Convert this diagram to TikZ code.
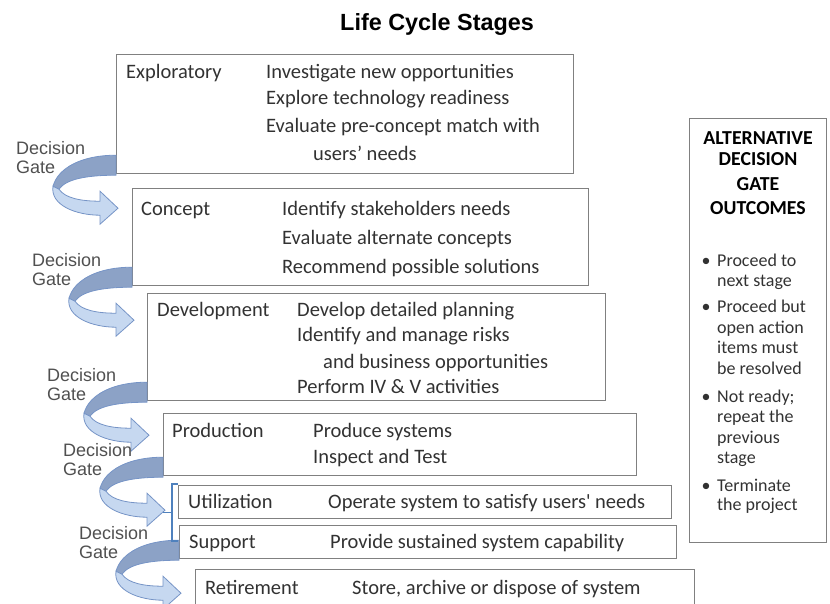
\documentclass[tikz,border=0pt]{standalone}
\usepackage{fontspec}
\setmainfont{Carlito}
\newfontfamily\arialfont{Liberation Sans}
\usetikzlibrary{calc}

\definecolor{gatedark}{RGB}{140,162,198}
\definecolor{gatelight}{RGB}{198,216,240}
\definecolor{gateline}{RGB}{118,148,198}
\definecolor{boxline}{RGB}{128,128,128}
\definecolor{txt}{RGB}{50,50,50}
\definecolor{gatetxt}{RGB}{80,80,80}
\definecolor{bracketblue}{RGB}{79,129,189}

% curved decision gate arrow, hung on the lower left corner of a stage box
\newcommand{\gatearrow}[2]{%
  \begin{scope}[shift={(#1)}]
    \filldraw[fill=gatedark, draw=gateline, line width=.8pt] (0,-19) .. controls (-35,-19) and (-58,-6) .. (-63,12) -- (-57,15) .. controls (-50,5) and (-30,1) .. (0,1) -- cycle;
    \filldraw[fill=gatelight, draw=gateline, line width=.8pt] (-63,12) .. controls (-66,31) and (-40,41) .. (-16,41) -- (-16,50) -- (2,34) -- (-16,17) -- (-16,27) .. controls (-35,27) and (-51,24) .. (-57,15) -- cycle;
    \node (#2) [gatelabel] at (-100,-33) {Decision\\Gate};
  \end{scope}}

\begin{document}
\begin{tikzpicture}[x=1pt, y=-1pt,
  stagebox/.style={draw=boxline, line width=1.2pt, anchor=north west, inner sep=0},
  stagetext/.style={anchor=base west, inner sep=0, text=txt, font=\fontsize{20.5}{24}\selectfont},
  gatelabel/.style={anchor=north west, inner sep=0, align=left, text=gatetxt, font=\arialfont\fontsize{18}{19.5}\selectfont},
  outhead/.style={anchor=base, inner sep=0, text=black, font=\bfseries\fontsize{19.8}{22}\selectfont},
  outtext/.style={anchor=base west, inner sep=0, text=txt, font=\fontsize{18}{20}\selectfont}]
  \useasboundingbox (0,0) rectangle (830,603);
  \clip (0,0) rectangle (830,603);

  \node (title) [anchor=base west, inner sep=0, font=\arialfont\bfseries\fontsize{23.4}{26}\selectfont] at (340,30) {Life Cycle Stages};

  % stage boxes
  \node (expl) [stagebox, minimum width=457, minimum height=119] at (116,54) {};
  \node (conc) [stagebox, minimum width=456, minimum height=97] at (132,188) {};
  \node (devl) [stagebox, minimum width=458, minimum height=107] at (147,293) {};
  \node (prod) [stagebox, minimum width=473, minimum height=62] at (163,413) {};
  \node (util) [stagebox, minimum width=493, minimum height=33] at (178,485) {};
  \node (supp) [stagebox, minimum width=497, minimum height=33] at (179,525) {};
  \node (retr) [stagebox, minimum width=499, minimum height=50] at (195,569) {};

  % decision gates
  \gatearrow{expl.south west}{gate1}
  \gatearrow{conc.south west}{gate2}
  \gatearrow{devl.south west}{gate3}
  \gatearrow{prod.south west}{gate4}
  \gatearrow{supp.south west}{gate5}

  % bracket round utilization and support
  \coordinate (brtop) at (178,484);
  \coordinate (brbot) at (178,541);
  \draw[bracketblue, line width=1.5pt] (brtop) -- ++(-6,0) |- (brbot);
  \draw[bracketblue, line width=1.5pt] ($(brtop)!.5!(brbot)+(-6,0)$) -- ++(-9,0);

  % stage texts
  \node (expl-n) [stagetext] at (126,78) {Exploratory};
  \node (expl-1) [stagetext] at (266,78) {Investigate new opportunities};
  \node (expl-2) [stagetext] at (266,104) {Explore technology readiness};
  \node (expl-3) [stagetext] at (266,132) {Evaluate pre-concept match with};
  \node (expl-4) [stagetext] at (313,160) {users’ needs};

  \node (conc-n) [stagetext] at (141,215) {Concept};
  \node (conc-1) [stagetext] at (282,215) {Identify stakeholders needs};
  \node (conc-2) [stagetext] at (282,244) {Evaluate alternate concepts};
  \node (conc-3) [stagetext] at (282,273) {Recommend possible solutions};

  \node (devl-n) [stagetext] at (157,316) {Development};
  \node (devl-1) [stagetext] at (297,316) {Develop detailed planning};
  \node (devl-2) [stagetext] at (297,341) {Identify and manage risks};
  \node (devl-3) [stagetext] at (323,368) {and business opportunities};
  \node (devl-4) [stagetext] at (297,393) {Perform IV \& V activities};

  \node (prod-n) [stagetext] at (172,437) {Production};
  \node (prod-1) [stagetext] at (313,437) {Produce systems};
  \node (prod-2) [stagetext] at (313,463) {Inspect and Test};

  \node (util-n) [stagetext] at (188,508) {Utilization};
  \node (util-1) [stagetext] at (328,508) {Operate system to satisfy users\textquotesingle\ needs};

  \node (supp-n) [stagetext] at (189,548) {Support};
  \node (supp-1) [stagetext] at (330,548) {Provide sustained system capability};

  \node (retr-n) [stagetext] at (205,594) {Retirement};
  \node (retr-1) [stagetext] at (352,594) {Store, archive or dispose of system};

  % outcomes box
  \node (outc) [stagebox, minimum width=137, minimum height=424] at (689,118) {};
  \node (outc-h1) [outhead] at (758,144) {ALTERNATIVE};
  \node (outc-h2) [outhead] at (758,165) {DECISION};
  \node (outc-h3) [outhead] at (758,190) {GATE};
  \node (outc-h4) [outhead] at (758,214) {OUTCOMES};

  \node (b1) [outhead, font=\fontsize{18}{20}\selectfont, text=txt] at (706,266) {\textbullet};
  \node (b2) [outhead, font=\fontsize{18}{20}\selectfont, text=txt] at (706,312) {\textbullet};
  \node (b3) [outhead, font=\fontsize{18}{20}\selectfont, text=txt] at (706,402) {\textbullet};
  \node (b4) [outhead, font=\fontsize{18}{20}\selectfont, text=txt] at (706,491) {\textbullet};

  \node (o1) [outtext] at (717,266) {Proceed to};
  \node (o2) [outtext] at (717,286) {next stage};
  \node (o3) [outtext] at (717,312) {Proceed but};
  \node (o4) [outtext] at (717,333) {open action};
  \node (o5) [outtext] at (717,353) {items must};
  \node (o6) [outtext] at (717,374) {be resolved};
  \node (o7) [outtext] at (717,402) {Not ready;};
  \node (o8) [outtext] at (717,422) {repeat the};
  \node (o9) [outtext] at (717,443) {previous};
  \node (o10) [outtext] at (717,463) {stage};
  \node (o11) [outtext] at (717,491) {Terminate};
  \node (o12) [outtext] at (717,510) {the project};
\end{tikzpicture}
\end{document}
